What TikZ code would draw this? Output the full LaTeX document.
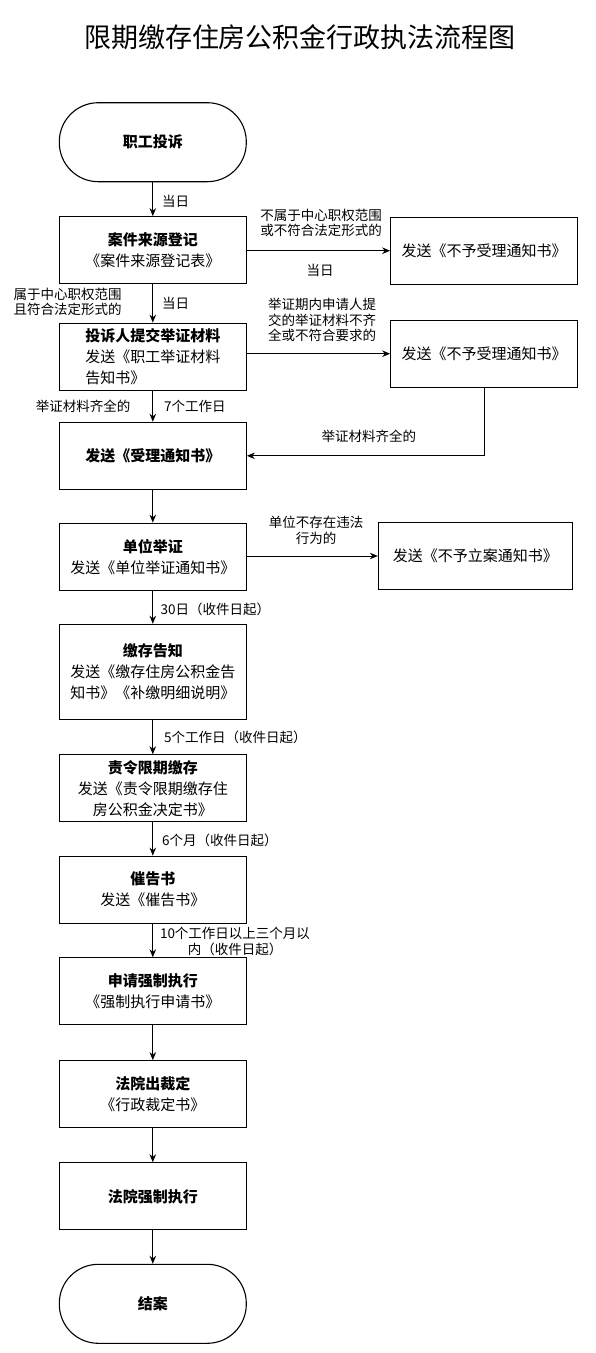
\documentclass[tikz,border=0pt]{standalone}
\usepackage{fontspec}
\setmainfont{Noto Sans CJK SC}
\usetikzlibrary{arrows.meta}
\begin{document}
\begin{tikzpicture}[x=1pt,y=-1pt,
  box/.style={draw, line width=1.1pt, minimum width=187pt, minimum height=67pt, align=center, inner sep=0pt, font=\fontsize{15}{21}\selectfont},
  term/.style={box, rounded corners=39pt, minimum height=79pt},
  arr/.style={-{Stealth[length=8pt,width=6.5pt]}, line width=1pt},
  lbl/.style={font=\fontsize{13.5}{15.5}\selectfont, align=center, inner sep=0pt},
  lblw/.style={lbl, anchor=west}]
\useasboundingbox (0,0) rectangle (596,1353);
\node[font=\fontsize{27}{30}\selectfont] (title) at (300,37) {限期缴存住房公积金行政执法流程图};

\node[term] (start) at (152.8,142.2) {\textbf{职工投诉}};
\node[box] (b1) at (152.8,250.2) {\textbf{案件来源登记}\\《案件来源登记表》};
\node[box] (r1) at (484.2,250.7) {发送《不予受理通知书》};
\node[box, align=left] (b2) at (152.8,356.7) {\textbf{投诉人提交举证材料}\\发送《职工举证材料\\告知书》};
\node[box] (r2) at (484.2,353.7) {发送《不予受理通知书》};
\node[box] (b3) at (152.8,455.8) {\textbf{发送《受理通知书》}};
\node[box] (b4) at (152.8,556.7) {\textbf{单位举证}\\发送《单位举证通知书》};
\node[box, minimum width=194pt] (r3) at (475.4,556) {发送《不予立案通知书》};
\node[box, minimum height=95pt] (b5) at (152.8,671.8) {\textbf{缴存告知}\\发送《缴存住房公积金告\\知书》《补缴明细说明》};
\node[box] (b6) at (152.8,788.3) {\textbf{责令限期缴存}\\发送《责令限期缴存住\\房公积金决定书》};
\node[box] (b7) at (152.8,889.7) {\textbf{催告书}\\发送《催告书》};
\node[box] (b8) at (152.8,991.3) {\textbf{申请强制执行}\\《强制执行申请书》};
\node[box] (b9) at (152.8,1094.2) {\textbf{法院出裁定}\\《行政裁定书》};
\node[box] (b10) at (152.8,1196.3) {\textbf{法院强制执行}};
\node[term] (end) at (152.8,1303.8) {\textbf{结案}};

% connectors
\draw[arr] (start) -- (b1);
\draw[arr] (b1.east |- r1.west) -- (r1.west);
\draw[arr] (b1) -- (b2);
\draw[arr] (b2.east |- r2.west) -- (r2.west);
\draw[arr] (b2) -- (b3);
\draw[arr] (r2.south) -- (r2.south |- b3.east) -- (b3.east);
\draw[arr] (b3) -- (b4);
\draw[arr] (b4.east |- r3.west) -- (r3.west);
\draw[arr] (b4) -- (b5);
\draw[arr] (b5) -- (b6);
\draw[arr] (b6) -- (b7);
\draw[arr] (b7) -- (b8);
\draw[arr] (b8) -- (b9);
\draw[arr] (b9) -- (b10);
\draw[arr] (b10) -- (end);

% labels
\node[lblw] (l1) at (162,201.7) {当日};
\node[lbl] (l2) at (321,223) {不属于中心职权范围\\或不符合法定形式的};
\node[lbl] (l3) at (320,270) {当日};
\node[lbl] (l4) at (67.5,301.7) {属于中心职权范围\\且符合法定形式的};
\node[lblw] (l5) at (162,303) {当日};
\node[lbl] (l6) at (322,320) {举证期内申请人提\\交的举证材料不齐\\全或不符合要求的};
\node[lblw] (l7) at (164,406.7) {7个工作日};
\node[lbl] (l8) at (83,406.7) {举证材料齐全的};
\node[lbl] (l9) at (368.8,436.7) {举证材料齐全的};
\node[lbl] (l10) at (316,530.5) {单位不存在违法\\行为的};
\node[lblw] (l11) at (160.5,609.3) {30日（收件日起）};
\node[lblw] (l12) at (164,737.3) {5个工作日（收件日起）};
\node[lblw] (l13) at (162,840) {6个月（收件日起）};
\node[lbl] (l14) at (235,941.7) {10个工作日以上三个月以\\内（收件日起）};
\end{tikzpicture}
\end{document}
